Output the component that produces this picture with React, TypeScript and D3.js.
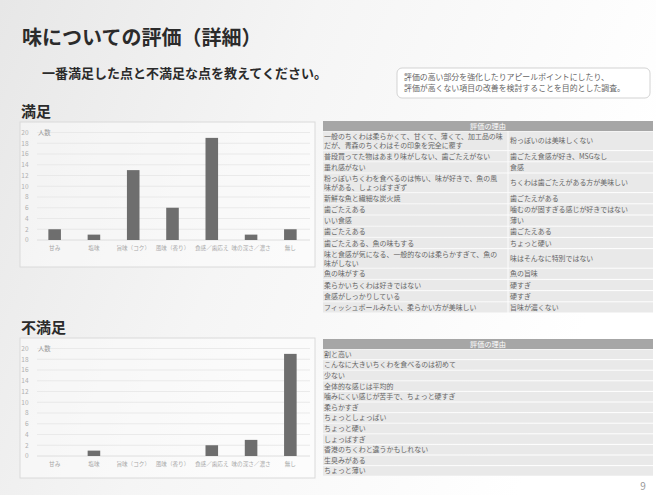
import React from "react";
import * as d3 from "d3";

const categories = ["甘み", "塩味", "旨味（コク）", "風味（香り）", "食感／歯応え", "味の深さ／濃さ", "無し"];
const satisfiedValues = [2, 1, 13, 6, 19, 1, 2];
const unsatisfiedValues = [0, 1, 0, 0, 2, 3, 19];
const yTicks = [0, 2, 4, 6, 8, 10, 12, 14, 16, 18, 20];

const title = "味についての評価（詳細）";
const subtitle = "一番満足した点と不満足な点を教えてください。";
const noteLines = [
  "評価の高い部分を強化したりアピールポイントにしたり、",
  "評価が高くない項目の改善を検討することを目的とした調査。",
];
const tableHeader = "評価の理由";

const satisfiedLeft = [
  ["一般のちくわは柔らかくて、甘くて、薄くて、加工品の味", "だが、青森のちくわはその印象を完全に覆す"],
  ["普段買ってた物はあまり味がしない、歯ごたえがない"],
  ["垂れ感がない"],
  ["粉っぽいちくわを食べるのは怖い、味が好きで、魚の風", "味がある、しょっぱすぎず"],
  ["新鮮な魚と繊細な炭火焼"],
  ["歯ごたえある"],
  ["いい食感"],
  ["歯ごたえある"],
  ["歯ごたえある、魚の味もする"],
  ["味と食感が気になる、一般的なのは柔らかすぎて、魚の", "味がしない"],
  ["魚の味がする"],
  ["柔らかいちくわは好きではない"],
  ["食感がしっかりしている"],
  ["フィッシュボールみたい、柔らかい方が美味しい"],
];
const satisfiedRight = [
  "粉っぽいのは美味しくない",
  "歯ごたえ食感が好き、MSGなし",
  "食感",
  "ちくわは歯ごたえがある方が美味しい",
  "歯ごたえがある",
  "噛むのが固すぎる感じが好きではない",
  "薄い",
  "歯ごたえある",
  "ちょっと硬い",
  "味はそんなに特別ではない",
  "魚の旨味",
  "硬すぎ",
  "硬すぎ",
  "旨味が濃くない",
];
const unsatisfiedReasons = [
  "割と高い",
  "こんなに大きいちくわを食べるのは初めて",
  "少ない",
  "全体的な感じは平均的",
  "噛みにくい感じが苦手で、ちょっと硬すぎ",
  "柔らかすぎ",
  "ちょっとしょっぱい",
  "ちょっと硬い",
  "しょっぱすぎ",
  "香港のちくわと違うかもしれない",
  "生臭みがある",
  "ちょっと薄い",
];

const JP = "'Noto Sans CJK JP', 'Noto Sans', sans-serif";

function BarChart({ values, top, height }: { values: number[]; top: number; height: number }) {
  const x = d3.scaleBand<string>().domain(categories).range([35, 310]).paddingInner(0.68).paddingOuter(0.34);
  const y = d3.scaleLinear().domain([0, 20]).range([top + 118, top + 10.5]);
  return (
    <g>
      <rect x={20} y={top} width={295} height={height} fill="#ffffff" fillOpacity={0.45} stroke="#dadada" strokeWidth={1} />
      {yTicks.map((t) => (
        <g key={t}>
          {t > 0 && <line x1={37} x2={310} y1={y(t)} y2={y(t)} stroke="#e6e6e6" strokeWidth={0.8} />}
          <text x={28.5} y={y(t) + 2.3} textAnchor="end" fontSize={6.5} fill="#b0b0b0" fontFamily={JP}>{t}</text>
        </g>
      ))}
      <line x1={37} x2={310} y1={y(0)} y2={y(0)} stroke="#d8d8d8" strokeWidth={0.8} />
      <text x={38} y={y(20) + 2.3} fontSize={6.3} fill="#999" fontFamily={JP}>人数</text>
      {categories.map((c, i) => (
        <g key={c}>
          {values[i] > 0 && (
            <rect x={x(c)} y={y(values[i])} width={x.bandwidth()} height={y(0) - y(values[i])} fill="#6e6e6e" />
          )}
          <text x={(x(c) as number) + x.bandwidth() / 2} y={y(0) + 10} textAnchor="middle" fontSize={5.6} fill="#a8a8a8" fontFamily={JP}>{c}</text>
        </g>
      ))}
    </g>
  );
}

export default function App() {
  const left = 323, right = 653, split = 508;
  const headerH = 10, rowH = 11.2, doubleH = 19.6;
  let yCursor = 121 + headerH;
  const topRows = satisfiedLeft.map((lines, i) => {
    const h = lines.length > 1 ? doubleH : rowH;
    const r = { y: yCursor, h, lines, right: satisfiedRight[i] };
    yCursor += h;
    return r;
  });
  const bottomStart = 339 + headerH;
  const bRowH = 10.6;

  return (
    <div style={{ position: "absolute", left: 0, top: 0 }}>
      <svg width={656} height={495} style={{ display: "block" }}>
        <defs>
          <linearGradient id="bg" x1="0" y1="0" x2="1" y2="0.3">
            <stop offset="0" stopColor="#e7e7e7" />
            <stop offset="0.45" stopColor="#f5f5f5" />
            <stop offset="1" stopColor="#ffffff" />
          </linearGradient>
        </defs>
        <rect width={656} height={495} fill="url(#bg)" />
        <text x={22} y={45} fontSize={20} fontWeight="bold" fill="#2b2b2b" fontFamily={JP}>{title}</text>
        <text x={42} y={78} fontSize={13} fontWeight="bold" fill="#2b2b2b" fontFamily={JP}>{subtitle}</text>
        <rect x={397} y={68} width={253} height={30} rx={5} fill="#ffffff" stroke="#c8c8c8" strokeWidth={0.8} />
        {noteLines.map((l, i) => (
          <text key={i} x={404} y={80 + i * 10.5} fontSize={7.9} fill="#666" fontFamily={JP}>{l}</text>
        ))}

        <text x={21} y={117} fontSize={15} fontWeight="bold" fill="#2b2b2b" fontFamily={JP}>満足</text>
        <BarChart values={satisfiedValues} top={122} height={145} />
        <text x={21} y={333} fontSize={15} fontWeight="bold" fill="#2b2b2b" fontFamily={JP}>不満足</text>
        <BarChart values={unsatisfiedValues} top={338} height={140} />

        {/* top table */}
        <rect x={left} y={121} width={right - left} height={headerH} fill="#a6a6a6" />
        <text x={(left + right) / 2} y={121 + 7.6} textAnchor="middle" fontSize={7.2} fill="#ffffff" fontFamily={JP}>{tableHeader}</text>
        {topRows.map((r, i) => (
          <g key={i}>
            <rect x={left} y={r.y + 0.5} width={split - left - 0.5} height={r.h - 1} fill="#e9e9e9" />
            <rect x={split + 0.5} y={r.y + 0.5} width={right - split - 0.5} height={r.h - 1} fill="#e9e9e9" />
            {r.lines.map((l, k) => (
              <text key={k} x={left + 1} y={r.y + 8.2 + k * 8.9} fontSize={6.95} fill="#666" fontFamily={JP}>{l}</text>
            ))}
            <text x={split + 2} y={r.y + r.h / 2 + 2.5} fontSize={6.95} fill="#666" fontFamily={JP}>{r.right}</text>
          </g>
        ))}

        {/* bottom table */}
        <rect x={left} y={339} width={right - left} height={headerH} fill="#a6a6a6" />
        <text x={(left + right) / 2} y={339 + 7.6} textAnchor="middle" fontSize={7.2} fill="#ffffff" fontFamily={JP}>{tableHeader}</text>
        {unsatisfiedReasons.map((t, i) => (
          <g key={i}>
            <rect x={left} y={bottomStart + i * bRowH + 0.5} width={right - left} height={bRowH - 1} fill="#e9e9e9" />
            <text x={left + 1} y={bottomStart + i * bRowH + 7.7} fontSize={6.95} fill="#666" fontFamily={JP}>{t}</text>
          </g>
        ))}

        <text x={643} y={490} textAnchor="middle" fontSize={10} fill="#999" fontFamily={JP}>9</text>
      </svg>
    </div>
  );
}
